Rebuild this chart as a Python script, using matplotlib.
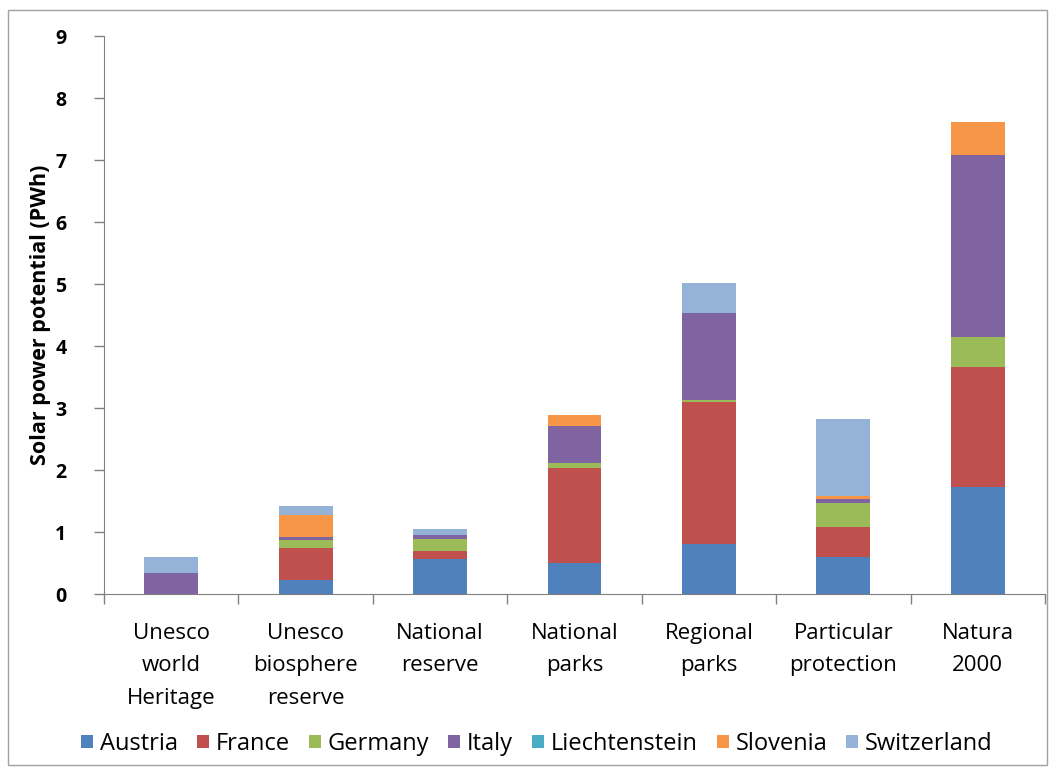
import matplotlib
matplotlib.use("Agg")
import matplotlib.pyplot as plt
import numpy as np
from matplotlib.patches import Rectangle

categories = ["Unesco\nworld\nHeritage", "Unesco\nbiosphere\nreserve", "National\nreserve",
              "National\nparks", "Regional\nparks", "Particular\nprotection", "Natura\n2000"]
countries = ["Austria", "France", "Germany", "Italy", "Liechtenstein", "Slovenia", "Switzerland"]

austria       = [0.00, 0.22, 0.56, 0.50, 0.80, 0.59, 1.73]
france        = [0.00, 0.53, 0.13, 1.54, 2.30, 0.49, 1.93]
germany       = [0.00, 0.12, 0.20, 0.07, 0.03, 0.39, 0.49]
italy         = [0.34, 0.05, 0.06, 0.60, 1.41, 0.07, 2.93]
liechtenstein = [0.00, 0.00, 0.00, 0.00, 0.00, 0.00, 0.00]
slovenia      = [0.00, 0.36, 0.00, 0.17, 0.00, 0.04, 0.54]
switzerland   = [0.26, 0.14, 0.10, 0.00, 0.48, 1.24, 0.00]

series = [austria, france, germany, italy, liechtenstein, slovenia, switzerland]
colors = ["#4F81BD", "#C0504D", "#9BBB59", "#8064A2", "#4BACC6", "#F79646", "#95B3D7"]
yticks = list(range(0, 10))

plt.rcParams['font.family'] = ['Open Sans', 'DejaVu Sans']

fig = plt.figure(figsize=(10.51, 7.67), dpi=100)
fig.patches.append(Rectangle((8/1051, 0.002), 1 - 12/1051, 1 - 10/767 - 0.002,
                             transform=fig.transFigure, fill=False,
                             edgecolor="#A0A0A0", linewidth=1.0))
ax = fig.add_axes([104/1051, (767-594)/767, 941/1051, 558/767])

x = np.arange(len(categories))
bottom = np.zeros(len(categories))
for name, vals, c in zip(countries, series, colors):
    v = np.array(vals)
    ax.bar(x, v, width=0.4, bottom=bottom, color=c, label=name, linewidth=0)
    bottom += v

ax.set_xlim(-0.5, len(categories) - 0.5)
ax.set_ylim(0, 9)
ax.set_yticks(yticks)
ax.set_yticklabels([str(t) for t in yticks], fontsize=14, fontweight='bold')
ax.set_xticks(x)
ax.set_xticklabels(categories, fontsize=16, linespacing=1.7)
ax.set_xticks(np.arange(len(categories) + 1) - 0.5, minor=True)
ax.tick_params(axis='x', which='major', length=0, pad=21)
ax.tick_params(axis='x', which='minor', length=7, width=1, color="#808080", direction='out')
ax.tick_params(axis='y', length=7, width=1, color="#808080", pad=20, direction='out')
ax.spines['top'].set_visible(False)
ax.spines['right'].set_visible(False)
ax.spines['left'].set_color("#808080")
ax.spines['bottom'].set_color("#808080")
ax.set_ylabel("Solar power potential (PWh)", fontsize=15.5, fontweight='bold', labelpad=3)

handles, labels = ax.get_legend_handles_labels()
fig.legend(handles, labels, loc='center', bbox_to_anchor=(0.511, 1 - 744/767), ncol=7,
           frameon=False, fontsize=17, handlelength=0.5, handleheight=0.5,
           handletextpad=0.3, columnspacing=0.8)

fig.savefig("out.png", dpi=100)
